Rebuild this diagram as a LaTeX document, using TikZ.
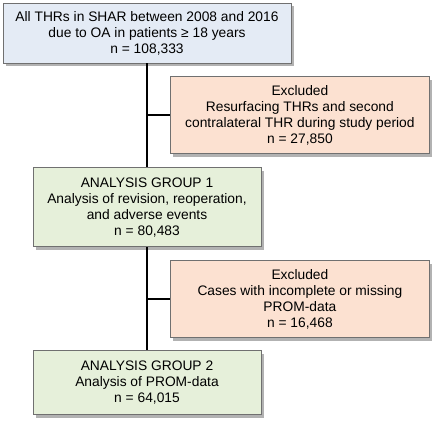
\documentclass[tikz,border=0pt]{standalone}
\usepackage{fontspec}
\setmainfont{Liberation Sans}
\usepackage{xcolor}
\usetikzlibrary{shapes, positioning, shadows}

\definecolor{startblue}{HTML}{E4EBF5}
\definecolor{exclpeach}{HTML}{FCE1D1}
\definecolor{groupgreen}{HTML}{E6F0DA}
\definecolor{boxedge}{HTML}{707070}

\tikzset{
    flowbox/.style={draw=boxedge, line width=0.8bp, rectangle, align=center,
        inner sep=0pt, font=\fontsize{13.8bp}{16bp}\selectfont,
        drop shadow={shadow xshift=3bp, shadow yshift=-3bp, fill=black!60, opacity=0.5}},
    startbox/.style={flowbox, fill=startblue, minimum width=288bp, minimum height=60bp},
    exclbox/.style={flowbox, fill=exclpeach, minimum width=259bp, minimum height=77bp},
    groupbox/.style={flowbox, fill=groupgreen, minimum width=228bp},
    link/.style={line width=2bp}
}

\begin{document}
\begin{tikzpicture}
    \useasboundingbox (0,0) rectangle (442bp,-422bp);
    \node (all) [startbox] at (147bp,-33bp) {All THRs in SHAR between 2008 and 2016 \\ due to OA in patients ≥ 18 years \\ n = 108,333};
    \node (exclA) [exclbox, below=13bp of all.south, anchor=north west, xshift=23bp] {Excluded \\ Resurfacing THRs and second \\ contralateral THR during study period \\ n = 27,850};
    \node (groupA) [groupbox, minimum height=79bp, below=104bp of all.south] {ANALYSIS GROUP 1 \\ Analysis of revision, reoperation, \\ and adverse events \\ n = 80,483};
    \node (exclB) [exclbox, below=13bp of groupA.south, anchor=north west, xshift=23bp] {Excluded \\ Cases with incomplete or missing \\ PROM-data \\ n = 16,468};
    \node (groupB) [groupbox, minimum height=64bp, below=103bp of groupA.south] {ANALYSIS GROUP 2 \\ Analysis of PROM-data \\ n = 64,015};

    \draw[link] (all) -- (groupA);
    \draw[link] (groupA) -- (groupB);
    \draw[link] (all.south |- exclA.west) -- (exclA.west);
    \draw[link] (groupA.south |- exclB.west) -- (exclB.west);
\end{tikzpicture}
\end{document}
